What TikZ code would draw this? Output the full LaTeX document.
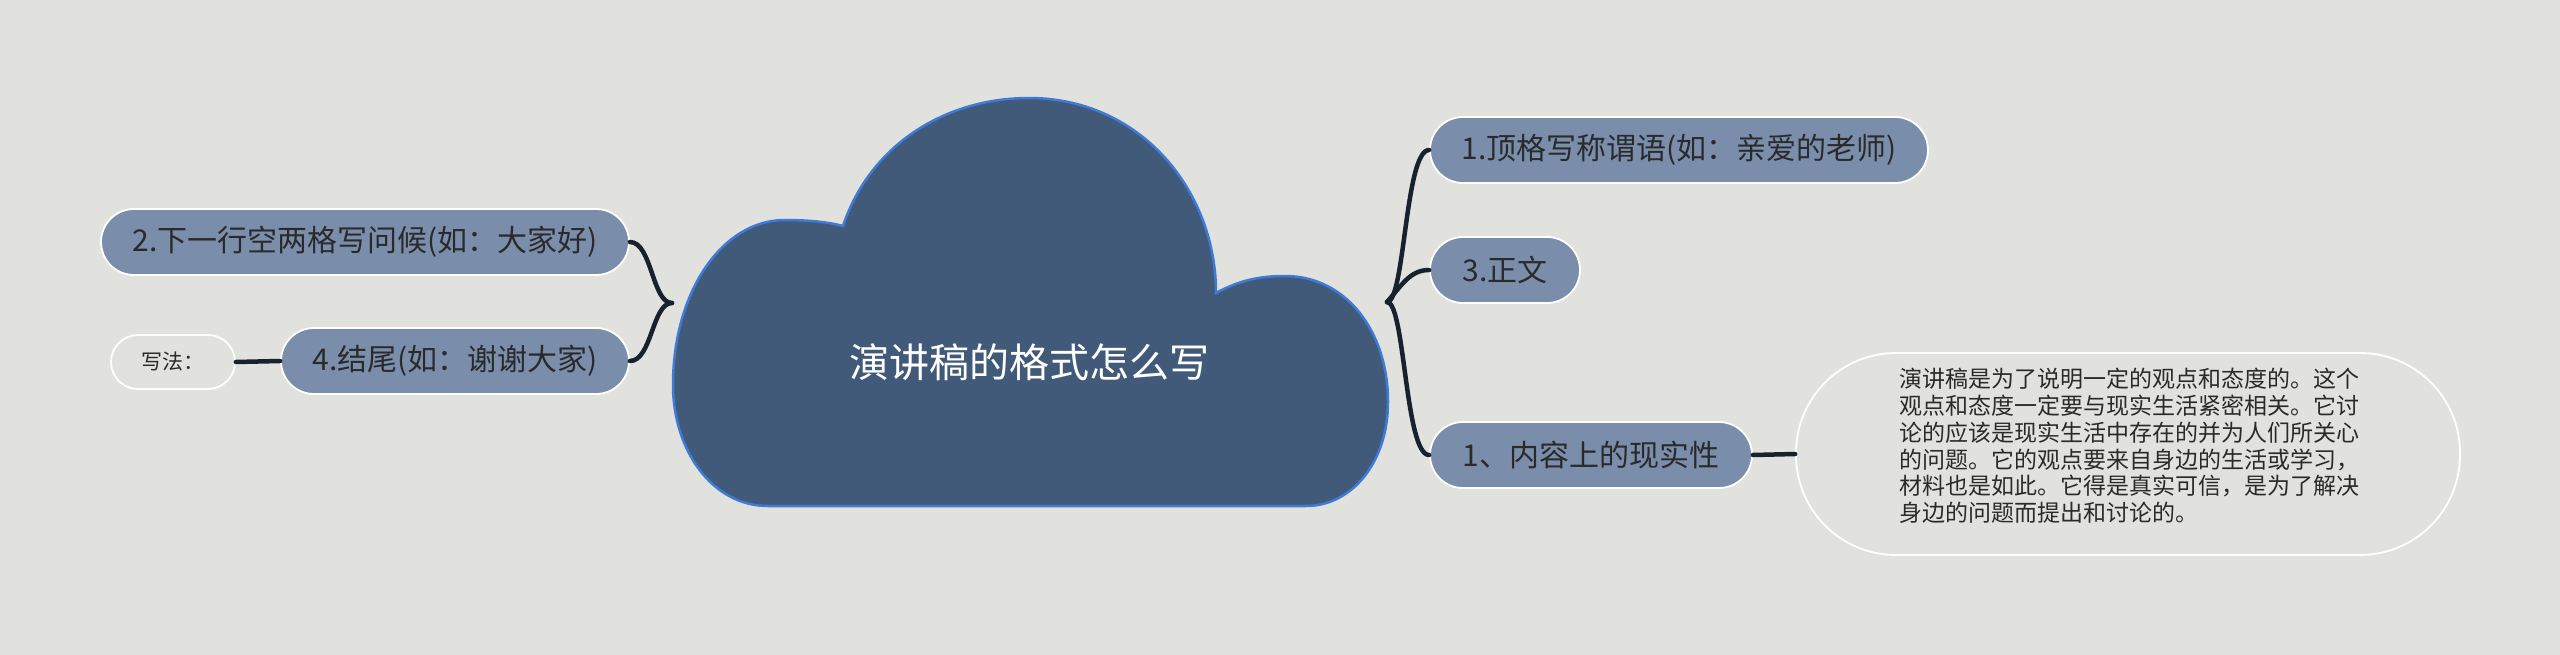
\documentclass[tikz,border=0pt]{standalone}
\usepackage{fontspec}
\setmainfont{Noto Sans CJK SC}
\definecolor{bg}{HTML}{E1E1DD}
\definecolor{cloudfill}{HTML}{425A79}
\definecolor{cloudline}{HTML}{3F7BD6}
\definecolor{pillfill}{HTML}{7A8EAC}
\definecolor{txt}{HTML}{2A2A2A}
\definecolor{wire}{HTML}{18212E}
\tikzset{
  pill/.style={draw=white, line width=1.8pt, fill=pillfill, rounded corners=33pt,
    minimum height=66pt, inner sep=0pt, text=txt, font=\fontsize{30}{34}\selectfont},
  lightpill/.style={draw=white, line width=1.8pt, fill=bg, rounded corners=27pt,
    minimum height=54pt, inner sep=0pt, text=txt, font=\fontsize{21}{24}\selectfont},
  descpill/.style={draw=white, line width=1.8pt, fill=bg, rounded corners=100pt,
    minimum height=202pt, minimum width=664pt, inner sep=0pt},
  wirestyle/.style={draw=wire, line width=4.5pt, line cap=round},
}
\begin{document}
\begin{tikzpicture}[x=1pt, y=-1pt]
\fill[bg] (0,0) rectangle (2560,655);
\useasboundingbox (0,0) rectangle (2560,655);
% cloud
\draw[fill=cloudfill, draw=cloudline, line width=2.5pt]
  (768,506) .. controls (712,506) and (673,450) .. (673,385)
  .. controls (673,292) and (722,220) .. (785,220)
  .. controls (808,220) and (828,222) .. (843,226)
  .. controls (870,145) and (945,98) .. (1029,98)
  .. controls (1140,98) and (1216,190) .. (1216,293)
  .. controls (1238,281) and (1258,276) .. (1285,276)
  .. controls (1345,276) and (1388,330) .. (1388,402)
  .. controls (1388,462) and (1352,506) .. (1306,506)
  -- cycle;
\node[text=white, font=\fontsize{40}{44}\selectfont] (root) at (1029,362) {演讲稿的格式怎么写};
\coordinate (rhub) at (1387,302);
\coordinate (lhub) at (672,303);
% right nodes
\node[pill, minimum width=498pt] (n1) at (1679,150) {1.顶格写称谓语(如：亲爱的老师)};
\node[pill, minimum width=150pt] (n3) at (1505,270) {3.正文};
\node[pill, minimum width=322pt] (n5) at (1591,455) {1、内容上的现实性};
\node[descpill] (desc) at (2128,454) {};
\node[text=txt, font=\fontsize{23}{26.8}\selectfont, align=left, inner sep=0pt] (desctxt) at (2129,446) {演讲稿是为了说明一定的观点和态度的。这个\\观点和态度一定要与现实生活紧密相关。它讨\\论的应该是现实生活中存在的并为人们所关心\\的问题。它的观点要来自身边的生活或学习，\\材料也是如此。它得是真实可信，是为了解决\\身边的问题而提出和讨论的。};
% left nodes
\node[pill, minimum width=528pt] (l2) at (365,242) {2.下一行空两格写问候(如：大家好)};
\node[pill, minimum width=348pt] (l4) at (455,361) {4.结尾(如：谢谢大家)};
\node[lightpill, minimum width=124pt] (w) at (173,362) {写法：};
% connectors
\draw[wirestyle] (rhub) .. controls (1405,302) and (1405,150) .. (n1.west);
\draw[wirestyle] (rhub) .. controls (1402,285) and (1410,270) .. (n3.west);
\draw[wirestyle] (rhub) .. controls (1405,302) and (1405,455) .. (n5.west);
\draw[wirestyle] (n5.east) -- (desc.west);
\draw[wirestyle] (lhub) .. controls (652,303) and (652,242) .. (l2.east);
\draw[wirestyle] (lhub) .. controls (652,303) and (652,361) .. (l4.east);
\draw[wirestyle] (w.east) -- (l4.west);
\end{tikzpicture}
\end{document}
